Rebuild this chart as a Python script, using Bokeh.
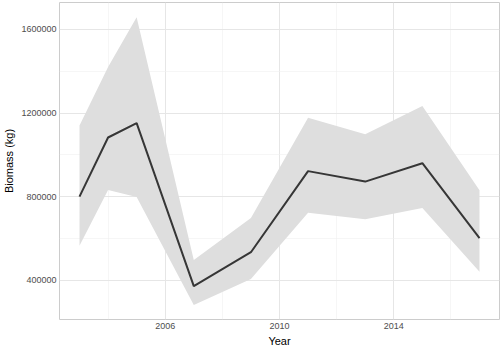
from bokeh.plotting import figure
from bokeh.models import Range1d, FixedTicker, NumeralTickFormatter
from bokeh.embed import file_html
from bokeh.resources import INLINE

years = [2003, 2004, 2005, 2007, 2009, 2011, 2013, 2015, 2017]
biomass = [800000, 1083000, 1152000, 372000, 534000, 922000, 872000, 960000, 601000]
lower = [565000, 832000, 798000, 281000, 406000, 723000, 692000, 745000, 441000]
upper = [1140000, 1420000, 1658000, 497000, 698000, 1177000, 1098000, 1234000, 831000]

x_major = [2006, 2010, 2014]
x_minor = [2004, 2008, 2012, 2016]
y_major = [400000, 800000, 1200000, 1600000]
y_minor = [600000, 1000000, 1400000]

FONT = "Liberation Sans"

p = figure(frame_width=440, frame_height=317, output_backend="svg", toolbar_location=None,
           x_range=Range1d(2002.3, 2017.7), y_range=Range1d(212000, 1729000),
           min_border_left=0, min_border_top=2, min_border_right=2, min_border_bottom=0)

p.varea(x=years, y1=lower, y2=upper, fill_color="#DEDEDE", fill_alpha=1.0)
p.line(x=years, y=biomass, line_color="#363636", line_width=2)

p.xaxis.ticker = FixedTicker(ticks=x_major, minor_ticks=x_minor)
p.yaxis.ticker = FixedTicker(ticks=y_major, minor_ticks=y_minor)
p.yaxis.formatter = NumeralTickFormatter(format="0")

for ax in (p.xaxis[0], p.yaxis[0]):
    ax.axis_line_color = None
    ax.major_tick_line_color = None
    ax.minor_tick_line_color = None
    ax.major_tick_out = 0
    ax.major_tick_in = 0
    ax.minor_tick_out = 0
    ax.minor_tick_in = 0
    ax.major_label_text_font = FONT
    ax.major_label_text_font_size = "9px"
    ax.major_label_text_color = "#4D4D4D"
    ax.axis_label_text_font = FONT
    ax.axis_label_text_font_size = "11px"
    ax.axis_label_text_font_style = "normal"
    ax.axis_label_text_color = "#000000"
    ax.major_label_standoff = 3
    ax.axis_label_standoff = 3

p.xaxis.axis_label = "Year"
p.yaxis.axis_label = "Biomass (kg)"

p.xgrid.grid_line_color = "#E6E6E6"
p.ygrid.grid_line_color = "#E6E6E6"
p.xgrid.minor_grid_line_color = "#F0F0F0"
p.ygrid.minor_grid_line_color = "#F0F0F0"
p.xgrid.minor_grid_line_width = 0.6
p.ygrid.minor_grid_line_width = 0.6

p.outline_line_color = "#CCCCCC"
p.outline_line_width = 1
p.background_fill_color = "white"
p.border_fill_color = "white"

open("out.html", "w").write(file_html(p, INLINE))
